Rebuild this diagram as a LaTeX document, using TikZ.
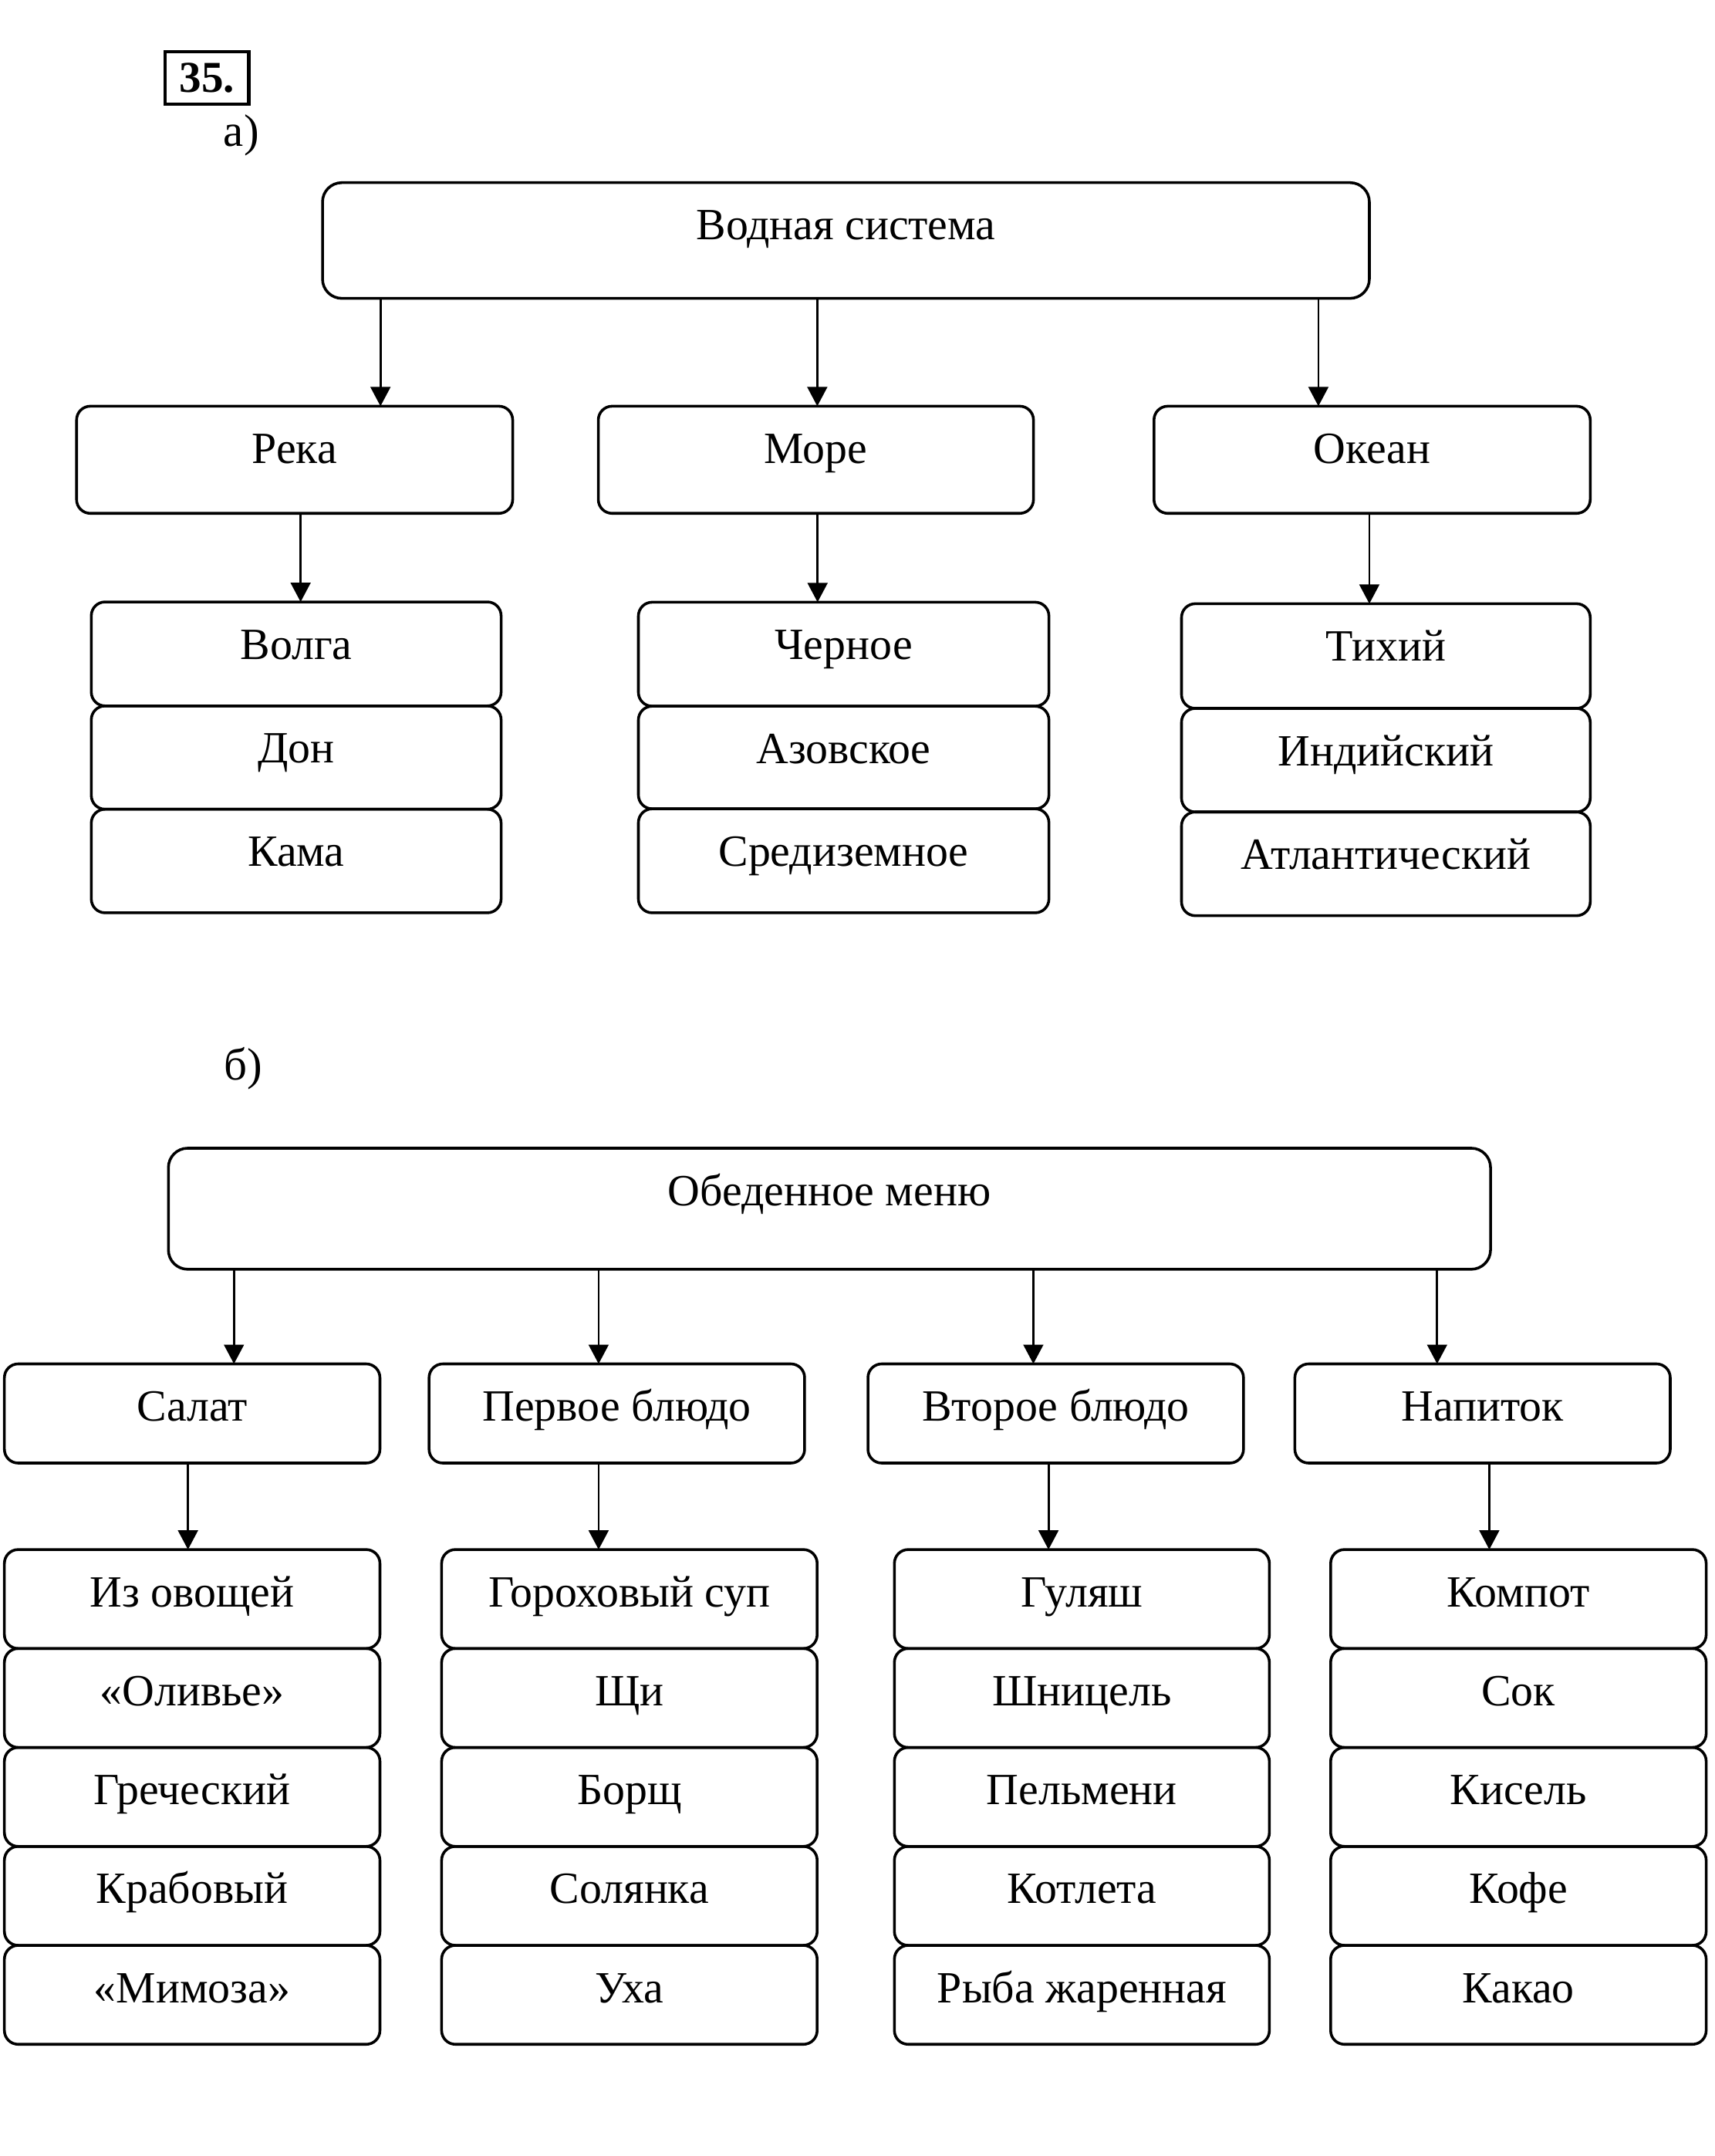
\documentclass[tikz,border=0pt]{standalone}
\usepackage{fontspec}
\setmainfont{Liberation Serif}
\usetikzlibrary{arrows.meta}
\tikzset{
  bx/.style={draw, line width=1pt, rounded corners=5pt, inner sep=0pt, outer sep=0pt,
    anchor=north, align=center, font=\fontsize{16.2}{19}\selectfont},
  bigbx/.style={rounded corners=7pt},
  arr/.style={line width=0.8pt, -{Triangle[length=7pt,width=7.2pt]}},
  lbl/.style={inner sep=0pt, anchor=base west, font=\fontsize{16.5}{19}\selectfont},
}
\newcommand\mkbox[7][]{%
  \pgfmathsetmacro\bxw{(#5-#3)*0.5}%
  \pgfmathsetmacro\bxd{(#6-#4-41.5)*0.5}%
  \pgfmathsetmacro\bxc{(#3+#5)/2}%
  \node[bx,#1,minimum width=\bxw pt,text height=20.75pt,text depth=\bxd pt] (#2) at (\bxc,#4) {#7};}
\begin{document}
\begin{tikzpicture}[x=0.5pt,y=-0.5pt]
\useasboundingbox (0,0) rectangle (1245,1565.3);

% heading
\node[draw, line width=1.2pt, inner sep=0pt, minimum width=30.3pt, minimum height=19pt,
  font=\fontsize{16}{19}\selectfont\bfseries] (num) at (150.3,56.5) {35.};
\node[lbl] (la) at (162,106.3) {а)};
\node[lbl] (lb) at (162.5,784) {б)};

% ---------- a) ----------
\mkbox[bigbx]{vs}{234.2}{132.6}{994.4}{216.6}{Водная система}
\mkbox{reka}{55.6}{294.9}{372.3}{372.7}{Река}
\mkbox{more}{434.5}{294.9}{750.5}{372.7}{Море}
\mkbox{okean}{838}{294.9}{1154.8}{372.7}{Океан}

\mkbox{volga}{66.3}{437}{363.9}{512.5}{Волга}
\mkbox{don}{66.3}{512.5}{363.9}{587.5}{Дон}
\mkbox{kama}{66.3}{587.5}{363.9}{662.7}{Кама}

\mkbox{chern}{463.6}{437.2}{761.7}{512.7}{Черное}
\mkbox{azov}{463.6}{512.7}{761.7}{587.2}{Азовское}
\mkbox{sred}{463.6}{587.2}{761.7}{662.7}{Средиземное}

\mkbox{tih}{858}{438.3}{1154.8}{514.3}{Тихий}
\mkbox{ind}{858}{514.3}{1154.8}{589.5}{Индийский}
\mkbox{atl}{858}{589.5}{1154.8}{664.8}{Атлантический}

\draw[arr] (vs.south -| 276.3,0) -- (reka.north -| 276.3,0);
\draw[arr] (vs.south -| 593.5,0) -- (more.north -| 593.5,0);
\draw[arr] (vs.south -| 957.4,0) -- (okean.north -| 957.4,0);
\draw[arr] (reka.south -| 218.3,0) -- (volga.north -| 218.3,0);
\draw[arr] (more.south -| 593.7,0) -- (chern.north -| 593.7,0);
\draw[arr] (okean.south -| 994.4,0) -- (tih.north -| 994.4,0);

% ---------- b) ----------
\mkbox[bigbx]{obed}{122.3}{833.6}{1082.4}{921.5}{Обеденное меню}
\mkbox{salat}{3.2}{990.2}{275.9}{1062.2}{Салат}
\mkbox{perv}{311.6}{990.2}{584.3}{1062.2}{Первое блюдо}
\mkbox{vtor}{630.3}{990.2}{903}{1062.2}{Второе блюдо}
\mkbox{nap}{940.3}{990.2}{1212.9}{1062.2}{Напиток}

\foreach \t [count=\i from 0] in {Из овощей,«Оливье»,Греческий,Крабовый,«Мимоза»}{
  \pgfmathsetmacro\ya{1125+\i*71.84}\pgfmathsetmacro\yb{1125+(\i+1)*71.84}
  \mkbox{ca\i}{3.2}{\ya}{275.9}{\yb}{\t}}
\foreach \t [count=\i from 0] in {Гороховый суп,Щи,Борщ,Солянка,Уха}{
  \pgfmathsetmacro\ya{1125+\i*71.84}\pgfmathsetmacro\yb{1125+(\i+1)*71.84}
  \mkbox{cb\i}{320.7}{\ya}{593.4}{\yb}{\t}}
\foreach \t [count=\i from 0] in {Гуляш,Шницель,Пельмени,Котлета,Рыба жаренная}{
  \pgfmathsetmacro\ya{1125+\i*71.84}\pgfmathsetmacro\yb{1125+(\i+1)*71.84}
  \mkbox{cc\i}{649.5}{\ya}{921.8}{\yb}{\t}}
\foreach \t [count=\i from 0] in {Компот,Сок,Кисель,Кофе,Какао}{
  \pgfmathsetmacro\ya{1125+\i*71.84}\pgfmathsetmacro\yb{1125+(\i+1)*71.84}
  \mkbox{cd\i}{966.3}{\ya}{1239}{\yb}{\t}}

\draw[arr] (obed.south -| 169.9,0) -- (salat.north -| 169.9,0);
\draw[arr] (obed.south -| 434.7,0) -- (perv.north -| 434.7,0);
\draw[arr] (obed.south -| 750.4,0) -- (vtor.north -| 750.4,0);
\draw[arr] (obed.south -| 1043.6,0) -- (nap.north -| 1043.6,0);
\draw[arr] (salat.south -| 136.5,0) -- (ca0.north -| 136.5,0);
\draw[arr] (perv.south -| 434.7,0) -- (cb0.north -| 434.7,0);
\draw[arr] (vtor.south -| 761.4,0) -- (cc0.north -| 761.4,0);
\draw[arr] (nap.south -| 1081.5,0) -- (cd0.north -| 1081.5,0);
\end{tikzpicture}
\end{document}
